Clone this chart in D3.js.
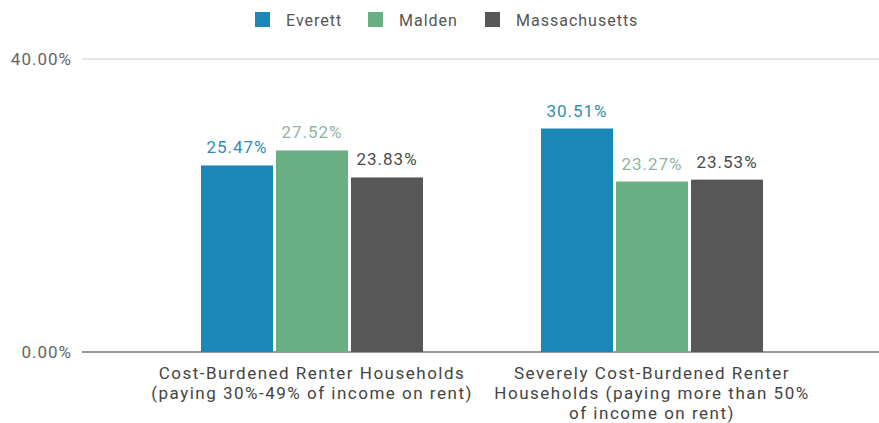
<!DOCTYPE html>
<html>
<head>
<meta charset="utf-8">
<script src="https://cdn.jsdelivr.net/npm/d3@7"></script>
<style>
body { margin: 0; background: #fff; }
svg { font-family: Roboto, "Noto Sans", sans-serif; }
</style>
</head>
<body>
<svg id="chart" width="879" height="423"></svg>
<script>
var categories = [
    ["Cost-Burdened Renter Households", "(paying 30%-49% of income on rent)"],
    ["Severely Cost-Burdened Renter", "Households (paying more than 50%", "of income on rent)"]
];
var seriesNames = ["Everett", "Malden", "Massachusetts"];
var everett = [25.47, 30.51];
var malden = [27.52, 23.27];
var massachusetts = [23.83, 23.53];
var yTicks = [0, 40];

var colors = ["#1a87b9", "#6aaf84", "#575757"];
var labelColors = ["#2f8db6", "#8fb5a0", "#4a4a4a"];

var series = [everett, malden, massachusetts];
var svg = d3.select("#chart");

var x0 = d3.scaleBand()
    .domain(d3.range(categories.length))
    .range([142, 822])
    .paddingInner(0.347)
    .paddingOuter(0.1735);
var x1 = d3.scaleBand()
    .domain(d3.range(seriesNames.length))
    .range([0, x0.bandwidth()])
    .paddingInner(0.04);
var y = d3.scaleLinear().domain([0, 40]).range([352, 59]);

//gridlines + y labels
svg.selectAll(".grid")
    .data(yTicks)
    .enter()
    .append("line")
    .attr("x1", 82).attr("x2", 879)
    .attr("y1", function(d) { return y(d); })
    .attr("y2", function(d) { return y(d); })
    .attr("stroke", function(d) { return d == 0 ? "#333" : "#ccc"; })
    .attr("stroke-width", function(d) { return d == 0 ? 1.2 : 1; });
svg.selectAll(".ylab")
    .data(yTicks)
    .enter()
    .append("text")
    .attr("x", 72)
    .attr("y", function(d) { return y(d) + 6; })
    .attr("text-anchor", "end")
    .attr("font-size", 17)
    .attr("letter-spacing", 1)
    .attr("fill", "#666")
    .text(function(d) { return d3.format(".2f")(d) + "%"; });

var groups = svg.selectAll(".grp")
    .data(categories)
    .enter()
    .append("g")
    .attr("transform", function(d, i) { return "translate(" + x0(i) + ",0)"; });

groups.each(function(c, ci) {
    var grp = d3.select(this);
    series.forEach(function(s, si) {
        grp.append("rect")
            .attr("x", x1(si))
            .attr("y", y(s[ci]))
            .attr("width", x1.bandwidth())
            .attr("height", y(0) - y(s[ci]))
            .attr("fill", colors[si]);
        grp.append("text")
            .attr("x", x1(si) + x1.bandwidth() / 2)
            .attr("y", y(s[ci]) - 12)
            .attr("text-anchor", "middle")
            .attr("font-size", 17)
            .attr("letter-spacing", 1)
            .attr("fill", labelColors[si])
            .text(d3.format(".2f")(s[ci]) + "%");
    });
});

//category labels
groups.append("text")
    .attr("x", x0.bandwidth() / 2)
    .attr("text-anchor", "middle")
    .attr("font-size", 17)
    .attr("letter-spacing", 1.5)
    .attr("fill", "#444")
    .selectAll("tspan")
    .data(function(d) { return d; })
    .enter()
    .append("tspan")
    .attr("x", x0.bandwidth() / 2)
    .attr("y", function(d, i) { return 379 + i * 20; })
    .text(function(d) { return d; });

//legend
var legendX = [255, 368, 485];
var legend = svg.selectAll(".leg")
    .data(seriesNames)
    .enter()
    .append("g")
    .attr("transform", function(d, i) { return "translate(" + legendX[i] + ",12)"; });
legend.append("rect")
    .attr("width", 15).attr("height", 15)
    .attr("fill", function(d, i) { return colors[i]; });
legend.append("text")
    .attr("x", 31).attr("y", 14)
    .attr("font-size", 16)
    .attr("letter-spacing", 1)
    .attr("fill", "#555")
    .text(function(d) { return d; });
</script>
</body>
</html>
